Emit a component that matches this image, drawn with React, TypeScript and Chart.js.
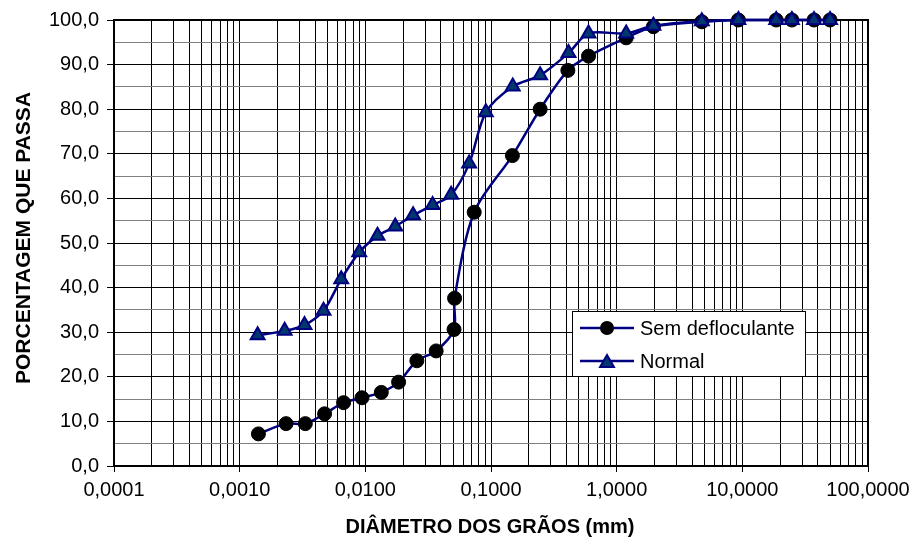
import React, { useEffect, useRef } from "react";
import { Chart, registerables } from "chart.js";

Chart.register(...registerables);

// ---- Data ----
const semDefloculanteX = [0.00141, 0.00234, 0.00333, 0.00474, 0.00671, 0.0094, 0.0134, 0.0184, 0.0257, 0.0366, 0.0508, 0.0513, 0.0735, 0.148, 0.246, 0.409, 0.597, 1.19, 1.96, 4.76, 9.31, 18.6, 24.8, 37.2, 49.9];
const semDefloculanteY = [7.2, 9.5, 9.5, 11.7, 14.2, 15.3, 16.5, 18.8, 23.6, 25.8, 30.6, 37.6, 56.9, 69.6, 80.0, 88.7, 91.9, 96.0, 98.5, 99.6, 100, 100, 100, 100, 100];

const normalX = [0.00139, 0.00228, 0.00328, 0.00465, 0.00643, 0.00894, 0.0125, 0.0173, 0.0240, 0.0343, 0.0482, 0.067, 0.091, 0.149, 0.246, 0.414, 0.597, 1.19, 1.96, 4.76, 9.31, 18.6, 24.8, 37.2, 49.9];
const normalY = [29.3, 30.3, 31.6, 34.8, 41.9, 47.9, 51.6, 53.7, 56.2, 58.5, 60.8, 67.8, 79.3, 85.1, 87.6, 92.6, 97.0, 97.0, 98.7, 99.7, 100, 100, 100, 100, 100];

const seriesNames = ["Sem defloculante", "Normal"];

const xDecades = [0.0001, 0.001, 0.01, 0.1, 1, 10, 100];
const xTickLabels = ["0,0001", "0,0010", "0,0100", "0,1000", "1,0000", "10,0000", "100,0000"];
const yTickValues = [0, 10, 20, 30, 40, 50, 60, 70, 80, 90, 100];
const yTickLabels = ["0,0", "10,0", "20,0", "30,0", "40,0", "50,0", "60,0", "70,0", "80,0", "90,0", "100,0"];

const xTitle = "DIÂMETRO DOS GRÃOS (mm)";
const yTitle = "PORCENTAGEM QUE PASSA";

const FONT = "'Liberation Sans', Arial, Helvetica, sans-serif";
const NAVY = "#000080";
const TRI_FILL = "#00386e";

function isDecade(v: number) {
  return xDecades.some((d) => Math.abs(v - d) / d < 1e-6);
}

function drawTriangle(ctx: CanvasRenderingContext2D, x: number, y: number, r: number) {
  ctx.beginPath();
  let rad = 0;
  ctx.moveTo(x + Math.sin(rad) * r, y - Math.cos(rad) * r);
  rad += (2 * Math.PI) / 3;
  ctx.lineTo(x + Math.sin(rad) * r, y - Math.cos(rad) * r);
  rad += (2 * Math.PI) / 3;
  ctx.lineTo(x + Math.sin(rad) * r, y - Math.cos(rad) * r);
  ctx.closePath();
}

const decorPlugin = {
  id: "decor",
  beforeDatasetsDraw(chart: any) {
    const { ctx, chartArea } = chart;
    ctx.save();
    ctx.strokeStyle = "#000";
    ctx.lineWidth = 2;
    ctx.strokeRect(chartArea.left, chartArea.top, chartArea.right - chartArea.left, chartArea.bottom - chartArea.top);
    ctx.restore();
  },
  afterDraw(chart: any) {
    const { ctx } = chart;
    ctx.save();
    // Titles
    ctx.fillStyle = "#000";
    ctx.font = `bold 20px ${FONT}`;
    ctx.textAlign = "center";
    ctx.textBaseline = "middle";
    ctx.fillText(xTitle, 490, 527);
    ctx.save();
    ctx.translate(24, 238);
    ctx.rotate(-Math.PI / 2);
    ctx.font = `bold 21px ${FONT}`;
    ctx.fillText(yTitle, 0, 0);
    ctx.restore();

    // Legend box
    const lx = 572.5, ly = 311.5, lw = 233, lh = 65;
    ctx.fillStyle = "#fff";
    ctx.fillRect(lx, ly, lw, lh);
    ctx.strokeStyle = "#000";
    ctx.lineWidth = 1;
    ctx.strokeRect(lx, ly, lw, lh);

    const rows = [328, 361];
    rows.forEach((ry, i) => {
      ctx.strokeStyle = NAVY;
      ctx.lineWidth = 2.5;
      ctx.beginPath();
      ctx.moveTo(580, ry);
      ctx.lineTo(634, ry);
      ctx.stroke();
      if (i === 0) {
        ctx.fillStyle = "#000";
        ctx.beginPath();
        ctx.arc(607, ry, 7, 0, Math.PI * 2);
        ctx.fill();
      } else {
        drawTriangle(ctx, 607, ry + 2, 8);
        ctx.fillStyle = TRI_FILL;
        ctx.fill();
        ctx.strokeStyle = NAVY;
        ctx.lineWidth = 2;
        ctx.stroke();
      }
      ctx.fillStyle = "#000";
      ctx.font = `20px ${FONT}`;
      ctx.textAlign = "left";
      ctx.textBaseline = "middle";
      ctx.fillText(seriesNames[i], 640, ry + 1);
    });
    ctx.restore();
  },
};

export default function App() {
  const canvasRef = useRef<HTMLCanvasElement | null>(null);

  useEffect(() => {
    if (!canvasRef.current) return;
    const chart = new Chart(canvasRef.current, {
      type: "line",
      data: {
        datasets: [
          {
            label: seriesNames[1],
            data: normalX.map((x, i) => ({ x, y: normalY[i] })),
            borderColor: NAVY,
            borderWidth: 2.5,
            backgroundColor: TRI_FILL,
            pointStyle: "triangle",
            pointRadius: 8,
            pointBackgroundColor: TRI_FILL,
            pointBorderColor: NAVY,
            pointBorderWidth: 2,
            tension: 0.3,
            clip: false,
            order: 0,
          },
          {
            label: seriesNames[0],
            data: semDefloculanteX.map((x, i) => ({ x, y: semDefloculanteY[i] })),
            borderColor: NAVY,
            borderWidth: 2.5,
            backgroundColor: "#000",
            pointStyle: "circle",
            pointRadius: 7,
            pointBackgroundColor: "#000",
            pointBorderColor: "#000",
            pointBorderWidth: 1,
            tension: 0.3,
            clip: false,
            order: 1,
          },
        ],
      },
      options: {
        animation: false,
        responsive: false,
        maintainAspectRatio: false,
        layout: { padding: { top: 20, right: 46, left: 0, bottom: 0 } },
        plugins: {
          legend: { display: false },
          tooltip: { enabled: false },
        },
        scales: {
          x: {
            type: "logarithmic",
            min: xDecades[0],
            max: xDecades[xDecades.length - 1],
            afterBuildTicks: (scale: any) => {
              const ticks: any[] = [];
              for (let d = 0; d < xDecades.length; d++) {
                const base = xDecades[d];
                if (d === xDecades.length - 1) {
                  ticks.push({ value: base });
                } else {
                  for (let m = 1; m <= 9; m++) ticks.push({ value: base * m });
                }
              }
              scale.ticks = ticks;
            },
            afterFit: (scale: any) => {
              scale.height = 77;
              scale.paddingLeft = 0;
              scale.paddingRight = 0;
            },
            ticks: {
              autoSkip: false,
              maxRotation: 0,
              minRotation: 0,
              padding: 6,
              color: "#000",
              font: { family: FONT, size: 20 },
              callback: (value: any) => {
                const v = Number(value);
                const idx = xDecades.findIndex((d) => Math.abs(v - d) / d < 1e-6);
                return idx >= 0 ? xTickLabels[idx] : "";
              },
            },
            grid: {
              color: "#000",
              lineWidth: 1,
              tickLength: 6,
              tickColor: (ctx: any) => (ctx.tick && isDecade(ctx.tick.value) ? "#000" : "rgba(0,0,0,0)"),
            },
            border: { display: false },
          },
          y: {
            type: "linear",
            min: 0,
            max: 100,
            afterFit: (scale: any) => {
              scale.width = 114;
            },
            ticks: {
              stepSize: 5,
              autoSkip: false,
              padding: 8,
              color: "#000",
              font: { family: FONT, size: 20 },
              callback: (value: any) => {
                const idx = yTickValues.indexOf(Number(value));
                return idx >= 0 ? yTickLabels[idx] : "";
              },
            },
            grid: {
              color: (ctx: any) => (ctx.tick && ctx.tick.value % 10 === 0 ? "#000" : "#808080"),
              lineWidth: 1,
              tickLength: 7,
              tickColor: (ctx: any) => (ctx.tick && ctx.tick.value % 10 === 0 ? "#000" : "rgba(0,0,0,0)"),
            },
            border: { display: false },
          },
        },
      },
      plugins: [decorPlugin],
    } as any);
    return () => chart.destroy();
  }, []);

  return (
    <div style={{ position: "fixed", left: 0, top: 0, width: 914, height: 543, background: "#fff" }}>
      <canvas ref={canvasRef} width={914} height={543} style={{ display: "block" }} />
    </div>
  );
}
